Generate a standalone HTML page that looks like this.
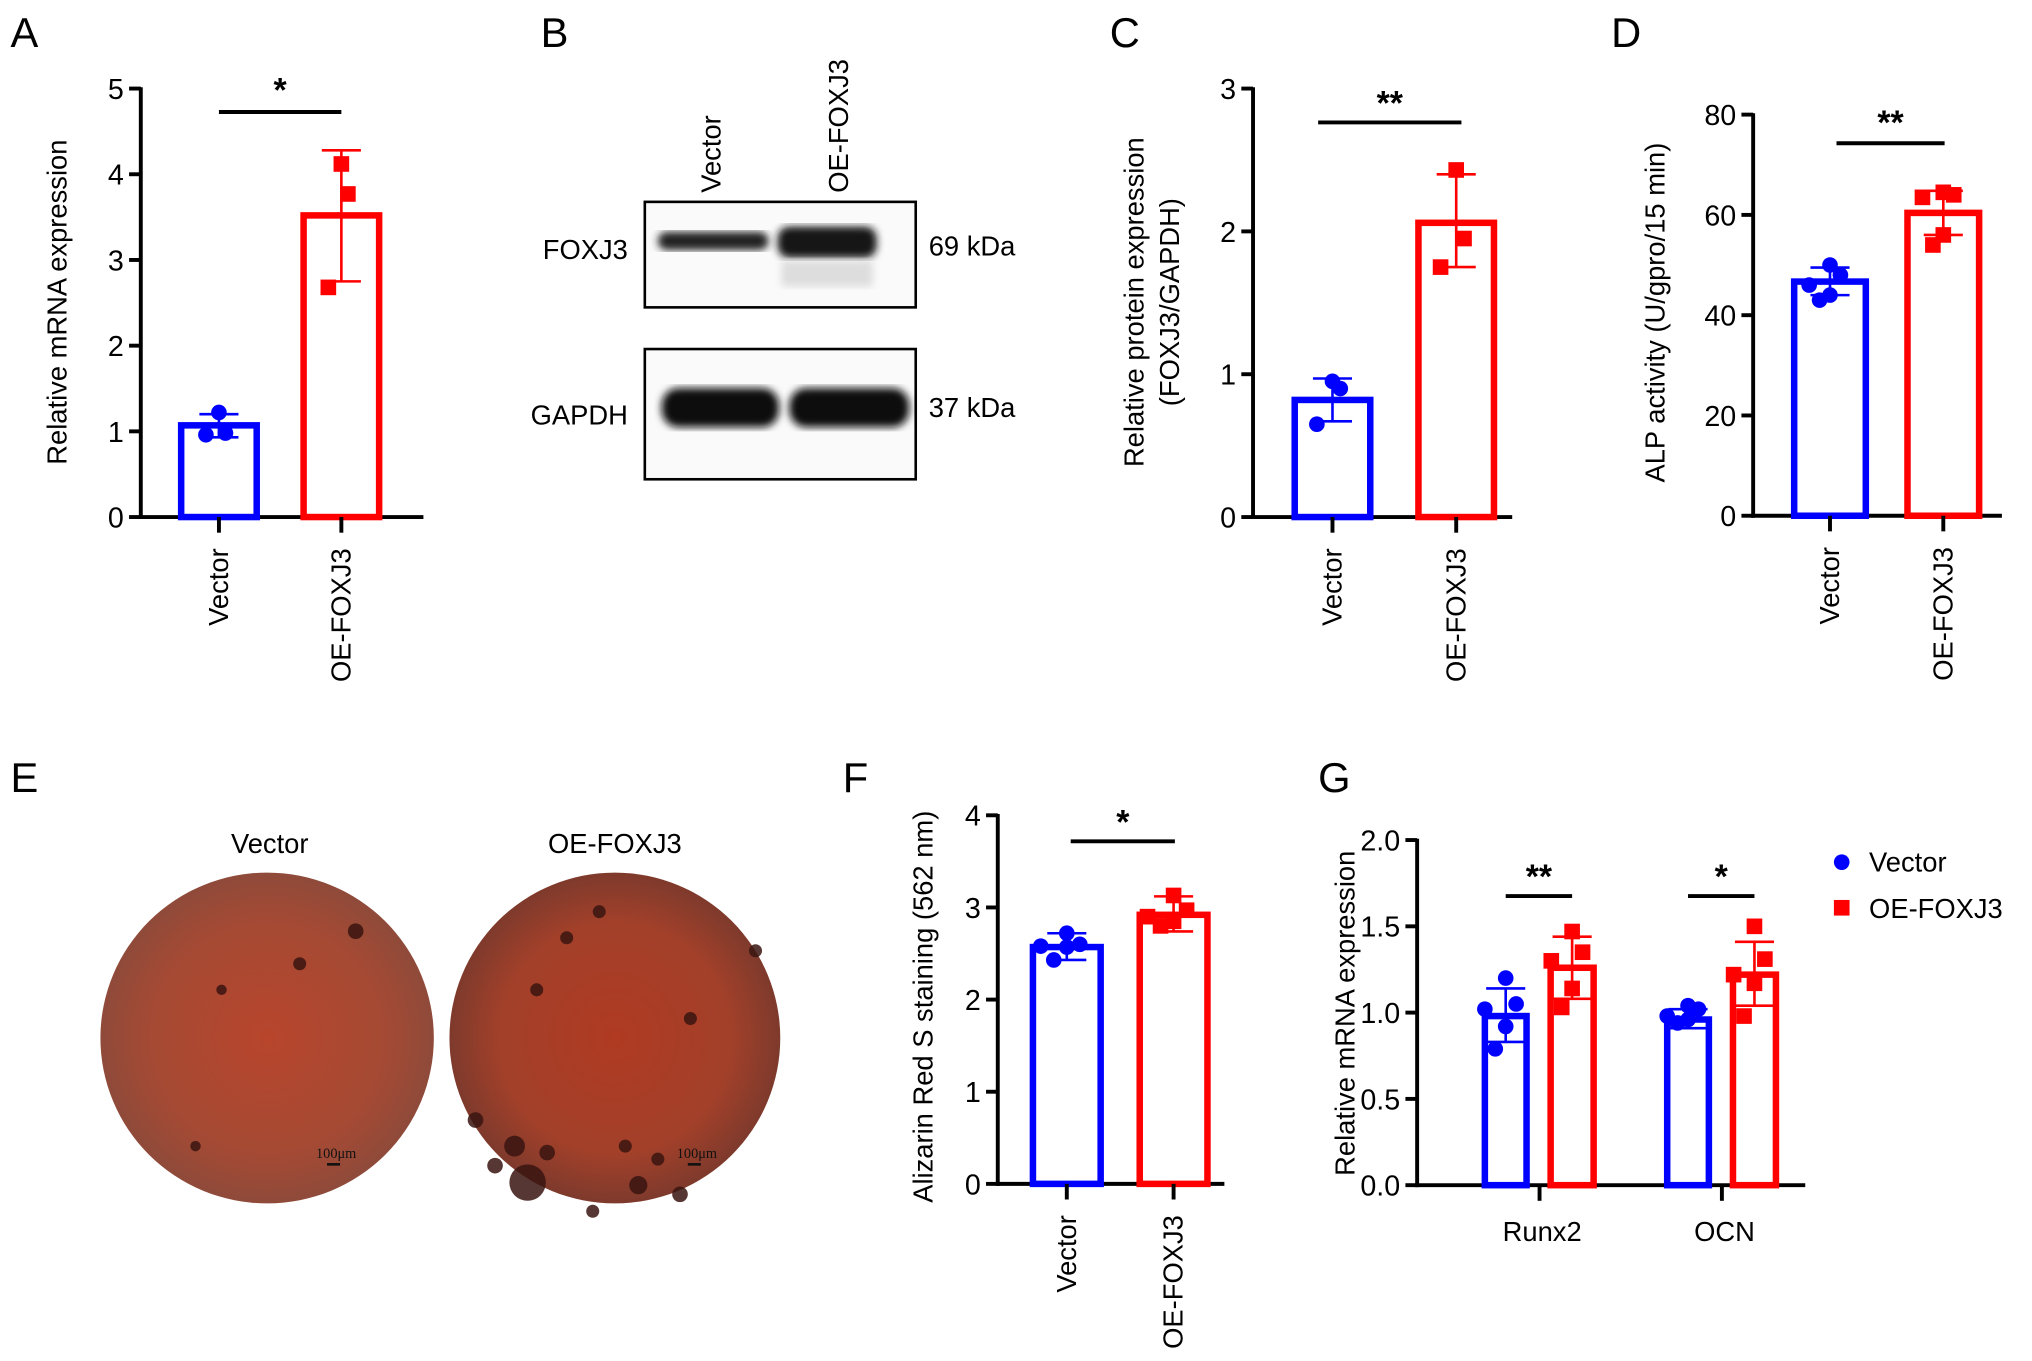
<!DOCTYPE html>
<html><head><meta charset="utf-8"><style>
html,body{margin:0;padding:0;background:#fff;}
svg{display:block;font-family:"Liberation Sans",Arial,sans-serif;}
</style></head><body>
<svg id="fig" width="2032" height="1361" viewBox="0 0 1560 1045" xmlns="http://www.w3.org/2000/svg">
<defs>
<radialGradient id="stainA" cx="50%" cy="50%" r="50%"><stop offset="0" stop-color="#b8452c"/><stop offset="0.7" stop-color="#a54a34"/><stop offset="1" stop-color="#8f4a3a"/></radialGradient>
<radialGradient id="stainB" cx="50%" cy="50%" r="50%"><stop offset="0" stop-color="#b03a22"/><stop offset="0.7" stop-color="#a2402a"/><stop offset="1" stop-color="#7e3a2c"/></radialGradient>
<filter id="blur3"><feGaussianBlur stdDeviation="3"/></filter>
</defs>
<g id="panels"></g>
<g>
<text x="415" y="36" font-size="32">B</text>
<text transform="translate(553,148) rotate(-90)" font-size="21">Vector</text>
<text transform="translate(651,148) rotate(-90)" font-size="21">OE-FOXJ3</text>
<rect x="495" y="155" width="208" height="81" fill="#fafafa" stroke="#000" stroke-width="2"/>
<rect x="505" y="178" width="85" height="14" rx="7" fill="#222" filter="url(#blur3)"/>
<rect x="597" y="174" width="76" height="24" rx="9" fill="#151515" filter="url(#blur3)"/>
<rect x="600" y="200" width="70" height="20" fill="#ddd" filter="url(#blur3)"/>
<rect x="495" y="268" width="208" height="100" fill="#fafafa" stroke="#000" stroke-width="2"/>
<rect x="508" y="298" width="90" height="30" rx="13" fill="#111" filter="url(#blur3)"/>
<rect x="606" y="298" width="92" height="30" rx="13" fill="#111" filter="url(#blur3)"/>
<text x="482" y="199" font-size="21" text-anchor="end">FOXJ3</text>
<text x="482" y="326" font-size="21" text-anchor="end">GAPDH</text>
<text x="713" y="196" font-size="21">69 kDa</text>
<text x="713" y="320" font-size="21">37 kDa</text>
</g>
<g>
<text x="8" y="608" font-size="32">E</text>
<text x="207" y="655" font-size="21" text-anchor="middle">Vector</text>
<text x="472" y="655" font-size="21" text-anchor="middle">OE-FOXJ3</text>
<ellipse cx="205" cy="797" rx="128" ry="127" fill="url(#stainA)"/>
<ellipse cx="472" cy="797" rx="127" ry="127" fill="url(#stainB)"/>
<g fill="#3a1510" opacity="0.85">
<circle cx="273" cy="715" r="6"/><circle cx="230" cy="740" r="5"/><circle cx="150" cy="880" r="4"/><circle cx="170" cy="760" r="4"/>
<circle cx="405" cy="908" r="14"/><circle cx="395" cy="880" r="8"/><circle cx="420" cy="885" r="6"/><circle cx="380" cy="895" r="6"/>
<circle cx="435" cy="720" r="5"/><circle cx="460" cy="700" r="5"/><circle cx="412" cy="760" r="5"/><circle cx="530" cy="782" r="5"/>
<circle cx="490" cy="910" r="7"/><circle cx="522" cy="917" r="6"/><circle cx="455" cy="930" r="5"/><circle cx="580" cy="730" r="5"/>
<circle cx="480" cy="880" r="5"/><circle cx="505" cy="890" r="5"/><circle cx="365" cy="860" r="6"/>
</g>
<text x="258" y="889" font-size="11" font-family="Liberation Serif,serif" fill="#111" text-anchor="middle">100μm</text>
<rect x="251" y="893" width="10" height="2" fill="#111"/>
<text x="535" y="889" font-size="11" font-family="Liberation Serif,serif" fill="#111" text-anchor="middle">100μm</text>
<rect x="528" y="893" width="10" height="2" fill="#111"/>
</g>
<g id="legend-g">
<circle cx="1414" cy="662" r="6" fill="#0000ff"/>
<text x="1435" y="669" font-size="21">Vector</text>
<rect x="1408" y="691" width="12" height="12" fill="#ff0000"/>
<text x="1435" y="705" font-size="21">OE-FOXJ3</text>
</g>
</svg>
<script>
const groupsAB = ["Vector", "OE-FOXJ3"];
const aTicks = ["0","1","2","3","4","5"];
const aMeans = [1.07, 3.52];
const aErrLo = [0.93, 2.75];
const aErrHi = [1.20, 4.28];
const aPointsVec = [1.22, 0.98, 0.96];
const aPointsOe = [4.12, 3.77, 2.68];

const cTicks = ["0","1","2","3"];
const cMeans = [0.82, 2.06];
const cErrLo = [0.67, 1.75];
const cErrHi = [0.97, 2.40];
const cPointsVec = [0.95, 0.90, 0.65];
const cPointsOe = [2.43, 1.95, 1.75];

const dTicks = ["0","20","40","60","80"];
const dMeans = [46.7, 60.4];
const dErrLo = [44.0, 56.0];
const dErrHi = [49.5, 64.8];
const dPointsVec = [50.0, 48.0, 46.0, 44.0, 43.0];
const dPointsOe = [64.5, 64.0, 63.5, 56.0, 54.0];

const fTicks = ["0","1","2","3","4"];
const fMeans = [2.57, 2.92];
const fErrLo = [2.43, 2.74];
const fErrHi = [2.72, 3.12];
const fPointsVec = [2.72, 2.60, 2.58, 2.57, 2.43];
const fPointsOe = [3.13, 2.97, 2.90, 2.85, 2.80];

const gCategories = ["Runx2", "OCN"];
const gTicks = ["0.0","0.5","1.0","1.5","2.0"];
const gMeansVec = [0.98, 0.96];
const gMeansOe = [1.26, 1.22];
const gErrVecLo = [0.83, 0.91];
const gErrVecHi = [1.14, 1.02];
const gErrOeLo = [1.08, 1.04];
const gErrOeHi = [1.44, 1.41];
const gPointsVec = [[1.20, 1.05, 1.02, 0.92, 0.79], [1.04, 1.02, 0.98, 0.96, 0.94]];
const gPointsOe = [[1.47, 1.35, 1.30, 1.14, 1.03], [1.50, 1.31, 1.22, 1.17, 0.98]];
const gSig = ["**", "*"];

const NS = "http://www.w3.org/2000/svg";
const root = document.getElementById("panels");
function mk(tag, attrs, parent) {
  const e = document.createElementNS(NS, tag);
  for (const k in attrs) e.setAttribute(k, attrs[k]);
  (parent || root).appendChild(e);
  return e;
}
const BLUE = "#0000ff", RED = "#ff0000";

function drawPoints(g, pts, cx, y, color, kind, spread) {
  pts.forEach((v, i) => {
    const off = (i % 2 === 0 ? -1 : 1) * spread * (i % 3);
    let m;
    if (kind === "circle") {
      m = mk("circle", {cx: cx + off, cy: y(v), r: 6, fill: color}, g);
    } else {
      m = mk("rect", {x: cx + off - 6, y: y(v) - 6, width: 12, height: 12, fill: color}, g);
    }
    
    
  });
}
function drawBar(g, cx, w, v, y, y0, color, lo, hi, name) {
  const b = mk("rect", {x: cx - w / 2, y: y(v), width: w, height: y0 - y(v), fill: "none", stroke: color, "stroke-width": 5}, g);
  
  
  const e = mk("g", {stroke: color, "stroke-width": 2}, g);
  
  
  mk("line", {x1: cx, x2: cx, y1: y(lo), y2: y(hi)}, e);
  mk("line", {x1: cx - 15, x2: cx + 15, y1: y(lo), y2: y(lo)}, e);
  mk("line", {x1: cx - 15, x2: cx + 15, y1: y(hi), y2: y(hi)}, e);
}
function drawAxes(g, ax, yTop, y0, xEnd, ticks, tickVals, y) {
  const a = mk("g", {stroke: "#000", "stroke-width": 3}, g);
  
  
  mk("line", {x1: ax, x2: ax, y1: yTop - 1, y2: y0 + 1.5}, a);
  const xa = mk("line", {x1: ax - 1.5, x2: xEnd, y1: y0, y2: y0, stroke: "#000", "stroke-width": 3}, g);
  
  
  ticks.forEach((t, i) => {
    const yy = y(tickVals[i]);
    mk("line", {x1: ax - 9, x2: ax, y1: yy, y2: yy}, a);
    const tx = mk("text", {x: ax - 13, y: yy + 8, "font-size": 22, "text-anchor": "end"}, g);
    tx.textContent = t;
    
    
  });
}
function label(text, x, y, name) {
  const t = mk("text", {x: x, y: y, "font-size": 32});
  t.textContent = text;
  
  
}
function rotText(g, text, x, y, name) {
  const t = mk("text", {transform: `translate(${x},${y}) rotate(-90)`, "font-size": 21, "text-anchor": "end"}, g);
  t.textContent = text;
  
  
}
function sig(g, x1, x2, yl, txt, ys) {
  const l = mk("line", {x1: x1, x2: x2, y1: yl, y2: yl, stroke: "#000", "stroke-width": 3}, g);
  
  
  const t = mk("text", {x: (x1 + x2) / 2, y: ys, "font-size": 26, "font-weight": "bold", "text-anchor": "middle"}, g);
  t.textContent = txt;
  
  
}

function twoGroup(cfg) {
  const g = mk("g", {});
  
  
  const y = v => cfg.y0 - v / cfg.max * (cfg.y0 - cfg.yTop);
  drawAxes(g, cfg.ax, cfg.yTop, cfg.y0, cfg.xEnd, cfg.ticks, cfg.ticks.map(Number), y);
  const colors = [BLUE, RED];
  cfg.centers.forEach((cx, i) => {
    drawBar(g, cx, cfg.bw, cfg.means[i], y, cfg.y0, colors[i], cfg.lo[i], cfg.hi[i], 'bar-' + (i === 0 ? 'vector' : 'oe-foxj3'));
    const tk = mk("line", {x1: cx, x2: cx, y1: cfg.y0, y2: cfg.y0 + 12, stroke: "#000", "stroke-width": 3}, g);
    
    
    rotText(g, groupsAB[i], cx + 7, cfg.y0 + 24, 'x-tick-label');
  });
  drawPoints(g, cfg.pv, cfg.centers[0], y, BLUE, "circle", cfg.spread);
  drawPoints(g, cfg.po, cfg.centers[1], y, RED, "rect", cfg.spread);
  sig(g, cfg.sig[0], cfg.sig[1], cfg.sig[2], cfg.sig[3], cfg.sig[4]);
  cfg.titles.forEach(tt => {
    const t = mk("text", {transform: `translate(${tt[1]},${tt[2]}) rotate(-90)`, "font-size": 21, "text-anchor": "middle"}, g);
    t.textContent = tt[0];
    
    
  });
}

label("A", 8, 36, "panel-label-a");
twoGroup({name: "panel-a-chart", ax: 108, yTop: 68, y0: 397, xEnd: 325, max: 5, ticks: aTicks,
  centers: [168, 262], bw: 58, means: aMeans, lo: aErrLo, hi: aErrHi, pv: aPointsVec, po: aPointsOe, spread: 5,
  sig: [168, 262, 86, "*", 78], titles: [["Relative mRNA expression", 51, 232]]});

label("C", 852, 36, "panel-label-c");
twoGroup({name: "panel-c-chart", ax: 962, yTop: 68, y0: 397, xEnd: 1161, max: 3, ticks: cTicks,
  centers: [1023, 1118], bw: 58, means: cMeans, lo: cErrLo, hi: cErrHi, pv: cPointsVec, po: cPointsOe, spread: 6,
  sig: [1012, 1122, 94, "**", 88], titles: [["Relative protein expression", 878, 232], ["(FOXJ3/GAPDH)", 905, 232]]});

label("D", 1237, 36, "panel-label-d");
twoGroup({name: "panel-d-chart", ax: 1346, yTop: 88, y0: 396, xEnd: 1537, max: 80, ticks: dTicks,
  centers: [1405, 1492], bw: 55, means: dMeans, lo: dErrLo, hi: dErrHi, pv: dPointsVec, po: dPointsOe, spread: 8,
  sig: [1410, 1493, 110, "**", 103], titles: [["ALP activity (U/gpro/15 min)", 1278, 240]]});

label("F", 647, 608, "panel-label-f");
twoGroup({name: "panel-f-chart", ax: 766, yTop: 626, y0: 909, xEnd: 940, max: 4, ticks: fTicks,
  centers: [819, 901], bw: 52, means: fMeans, lo: fErrLo, hi: fErrHi, pv: fPointsVec, po: fPointsOe, spread: 10,
  sig: [822, 902, 646, "*", 640], titles: [["Alizarin Red S staining (562 nm)", 716, 773]]});

label("G", 1012, 608, "panel-label-g");
(function () {
  const g = mk("g", {});
  
  
  const ax = 1088, yTop = 645, y0 = 910, max = 2;
  const y = v => y0 - v / max * (y0 - yTop);
  drawAxes(g, ax, yTop, y0, 1386, gTicks, gTicks.map(Number), y);
  const catCenters = [1182, 1322];
  gCategories.forEach((c, i) => {
    const cc = catCenters[i];
    const vx = cc - 26, ox = cc + 25;
    drawBar(g, vx, 32, gMeansVec[i], y, y0, BLUE, gErrVecLo[i], gErrVecHi[i], 'bar-' + c.toLowerCase() + '-vector');
    drawBar(g, ox, 33, gMeansOe[i], y, y0, RED, gErrOeLo[i], gErrOeHi[i], 'bar-' + c.toLowerCase() + '-oe-foxj3');
    drawPoints(g, gPointsVec[i], vx, y, BLUE, "circle", 8);
    drawPoints(g, gPointsOe[i], ox, y, RED, "rect", 8);
    const tk = mk("line", {x1: cc, x2: cc, y1: y0, y2: y0 + 12, stroke: "#000", "stroke-width": 3}, g);
    
    
    const t = mk("text", {x: cc + 2, y: y0 + 43, "font-size": 21, "text-anchor": "middle"}, g);
    t.textContent = c;
    
    
    sig(g, vx, ox, 688, gSig[i], 682);
  });
  const t = mk("text", {transform: "translate(1040,778) rotate(-90)", "font-size": 21, "text-anchor": "middle"}, g);
  t.textContent = "Relative mRNA expression";
  
  
})();
</script>
</body></html>
